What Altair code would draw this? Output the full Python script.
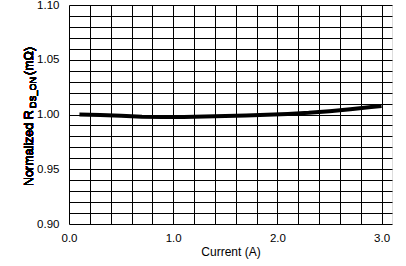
import altair as alt
import pandas as pd

current = [0.1, 0.3, 0.5, 0.7, 0.9, 1.1, 1.3, 1.5, 1.7, 1.9, 2.1, 2.3, 2.5, 2.7, 2.9, 3.0]
rdson = [1.000, 0.9995, 0.9988, 0.9980, 0.9978, 0.9978, 0.9982, 0.9986, 0.9990,
         0.9997, 1.0005, 1.0015, 1.0030, 1.0048, 1.0068, 1.0078]

x_grid = [0.0, 0.2, 0.4, 0.6, 0.8, 1.0, 1.2, 1.4, 1.6, 1.8, 2.0, 2.2, 2.4, 2.6, 2.8, 3.0]
y_grid = [0.90, 0.91, 0.92, 0.93, 0.94, 0.95, 0.96, 0.97, 0.98, 0.99, 1.00,
          1.01, 1.02, 1.03, 1.04, 1.05, 1.06, 1.07, 1.08, 1.09, 1.10]

df = pd.DataFrame({"I": current, "R": rdson})

W, H = 323, 219
FONT = "Liberation Sans"
FS = 11.5
TFS = 12.5

x_enc = alt.X("I:Q", scale=alt.Scale(domain=[0, 3.1], nice=False, zero=False),
              axis=alt.Axis(values=x_grid, grid=True, gridColor="black", gridWidth=1,
                            gridOpacity=1, ticks=False, domain=False,
                            labelExpr="abs(datum.value - round(datum.value)) < 0.001 ? format(datum.value, '.1f') : ''",
                            labelFont=FONT, labelFontSize=FS, labelColor="black",
                            labelPadding=8, title="Current (A)", titleFont=FONT,
                            titleFontSize=12, titleFontWeight="normal", titleColor="black",
                            titlePadding=3, labelFlush=False))
y_enc = alt.Y("R:Q", scale=alt.Scale(domain=[0.9, 1.1], nice=False, zero=False),
              axis=alt.Axis(values=y_grid, grid=True, gridColor="black", gridWidth=1,
                            gridOpacity=1, ticks=False, domain=False,
                            labelExpr="round(datum.value * 100) % 5 == 0 ? format(datum.value, '.2f') : ''",
                            labelFont=FONT, labelFontSize=FS, labelColor="black",
                            labelPadding=10, title=None, labelFlush=False))

line = alt.Chart(df).mark_line(color="black", strokeWidth=4).encode(x=x_enc, y=y_enc)

title_main = alt.Chart(df).mark_text(text="Normalized R", angle=270, align="left",
                                     baseline="alphabetic", font=FONT, fontSize=TFS,
                                     color="black").encode(x=alt.value(-36), y=alt.value(181))
title_sub = alt.Chart(df).mark_text(text="DS_ON", angle=270, align="left",
                                    baseline="alphabetic", font=FONT, fontSize=9,
                                    color="black").encode(x=alt.value(-33.5), y=alt.value(103))
title_end = alt.Chart(df).mark_text(text=" (m\u03a9)", angle=270, align="left",
                                    baseline="alphabetic", font=FONT, fontSize=TFS,
                                    color="black").encode(x=alt.value(-36), y=alt.value(70))

chart = alt.layer(line, title_main, title_sub, title_end).properties(
    width=W, height=H,
    autosize=alt.AutoSizeParams(type="none"),
    padding={"left": 69, "top": 5, "right": 14, "bottom": 42},
).configure_view(stroke="black", strokeWidth=2).configure(background="white")

chart.save("out.html", embed_options={"renderer": "svg", "actions": False})
